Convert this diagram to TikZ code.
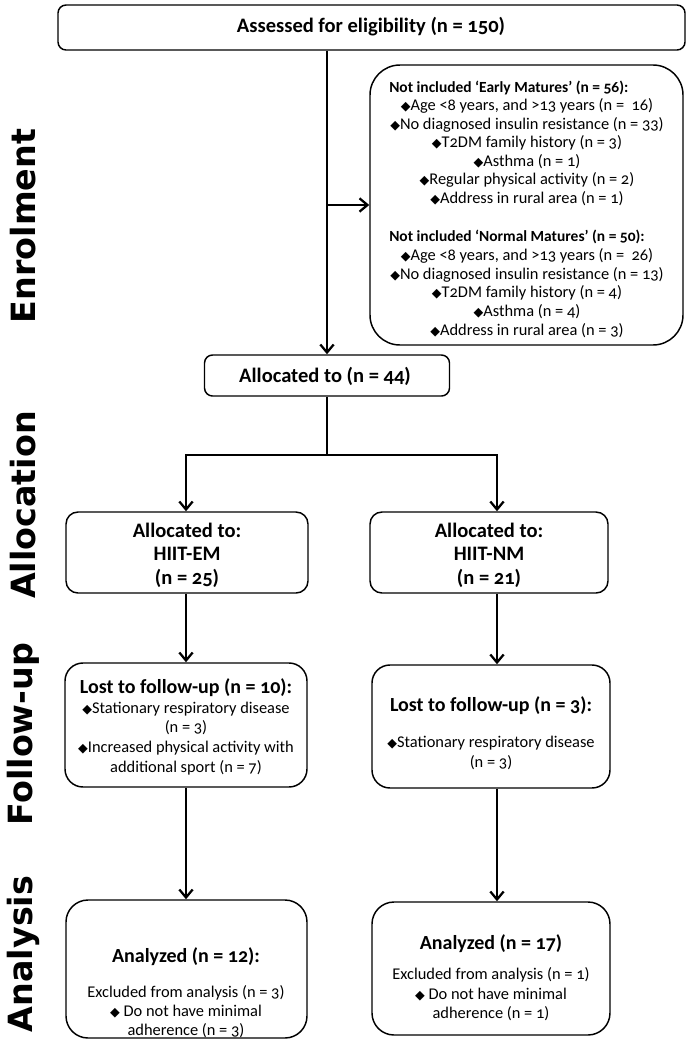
\documentclass[tikz,border=0pt]{standalone}
\usepackage{fontspec}
\setmainfont{Carlito}[Numbers=OldStyle]
\newfontfamily\dejavu{DejaVu Sans}
\usetikzlibrary{arrows.meta}
\newcommand\dia{{\dejavu\fontsize{9.5}{9}\selectfont ◆}}
\begin{document}
\begin{tikzpicture}[x=0.75pt,y=-0.75pt,
  box/.style={draw, line width=1.1pt, inner sep=0pt},
  arr/.style={line width=1.9pt, -{Straight Barb[length=6pt,width=10pt,line width=1.7pt]}},
  ln/.style={line width=1.9pt},
  side/.style={rotate=90, font=\dejavu\bfseries\fontsize{25}{25}\selectfont},
  hd/.style={font=\bfseries\fontsize{15.4}{17}\selectfont, inner sep=0pt},
  hdb/.style={font=\bfseries\fontsize{15}{17}\selectfont, inner sep=0pt},
  bh/.style={font=\bfseries\fontsize{11.6}{13}\selectfont, inner sep=0pt, anchor=west},
  bd/.style={font=\fontsize{12.3}{14}\selectfont, inner sep=0pt}]
\useasboundingbox (0,0) rectangle (690,1043);
% side labels
\node[side] (sEn) at (23,226) {Enrolment};
\node[side] (sAl) at (23,505) {Allocation};
\node[side] (sFo) at (23,734) {Follow-up};
\node[side] (sAn) at (23,954) {Analysis};
% boxes
\node[box, rounded corners=6pt, minimum width=470.25pt, minimum height=33.75pt] (A) at (371.5,27.5) {};
\node[box, rounded corners=22.5pt, minimum width=234.75pt, minimum height=210pt] (B) at (526.5,205) {};
\node[box, rounded corners=6pt, minimum width=183.75pt, minimum height=30.75pt] (C) at (327,375.5) {};
\node[box, rounded corners=9pt, minimum width=181.5pt, minimum height=60.75pt] (D) at (187,552.5) {};
\node[box, rounded corners=9pt, minimum width=178.5pt, minimum height=60.75pt] (E) at (489,552.5) {};
\node[box, rounded corners=13.5pt, minimum width=181.5pt, minimum height=93pt] (F) at (186,725) {};
\node[box, rounded corners=13.5pt, minimum width=178.5pt, minimum height=92.25pt] (G) at (491,726.5) {};
\node[box, rounded corners=16.5pt, minimum width=180.75pt, minimum height=103.5pt] (H) at (186.5,969) {};
\node[box, rounded corners=16.5pt, minimum width=178.5pt, minimum height=99.75pt] (I) at (491,968.5) {};
% connector helpers
\coordinate (J) at (327,455);
\coordinate (Rx) at (497,0);
\coordinate (Lx) at (186,0);
% connectors
\draw[arr] (A.south -| C.north) -- (C.north);
\draw[arr] (C.north |- B.west) -- (B.west);
\draw[ln] (C.south) -- (J);
\draw[arr] (J) -| (D.north -| Lx);
\draw[arr] (J) -| (E.north -| Rx);
\draw[arr] (D.south -| Lx) -- (F.north -| Lx);
\draw[arr] (E.south -| Rx) -- (G.north -| Rx);
\draw[arr] (F.south -| Lx) -- (H.north -| Lx);
\draw[arr] (G.south -| Rx) -- (I.north -| Rx);
% texts
\node[hd] (tA) at (371,27) {Assessed for eligibility (n = 150)};
\node[bh] (tB1) at (389,88) {Not included ‘Early Matures’ (n = 56):};
\foreach \t [count=\i] in {{\dia Age <8 years, and >13 years (n = \ 16)},
  {\dia No diagnosed insulin resistance (n = 33)},
  {\dia T2DM family history (n = 3)},
  {\dia Asthma (n = 1)},
  {\dia Regular physical activity (n = 2)},
  {\dia Address in rural area (n = 1)}}
  \node[bd] (bE\i) at (527,87.4+\i*18.6) {\t};
\node[bh] (tB2) at (389,237) {Not included ‘Normal Matures’ (n = 50):};
\foreach \t [count=\i] in {{\dia Age <8 years, and >13 years (n = \ 26)},
  {\dia No diagnosed insulin resistance (n = 13)},
  {\dia T2DM family history (n = 4)},
  {\dia Asthma (n = 4)},
  {\dia Address in rural area (n = 3)}}
  \node[bd] (bN\i) at (527,237.4+\i*18.6) {\t};
\node[hd] (tC) at (325,376) {Allocated to (n = 44)};
\node[hd] (tD1) at (187,530) {Allocated to:};
\node[hd] (tD2) at (187,554) {HIIT-EM};
\node[hd] (tD3) at (187,578) {(n = 25)};
\node[hd] (tE1) at (489,530) {Allocated to:};
\node[hd] (tE2) at (489,554) {HIIT-NM};
\node[hd] (tE3) at (489,578) {(n = 21)};
\node[hdb] (tF0) at (186,688) {Lost to follow-up (n = 10):};
\node[bd] (tF1) at (186,709) {\dia Stationary respiratory disease};
\node[bd] (tF2) at (186,728) {(n = 3)};
\node[bd] (tF3) at (186,748) {\dia Increased physical activity with};
\node[bd] (tF4) at (186,768) {additional sport (n = 7)};
\node[hdb] (tG0) at (491,706) {Lost to follow-up (n = 3):};
\node[bd] (tG1) at (491,743) {\dia Stationary respiratory disease};
\node[bd] (tG2) at (491,763) {(n = 3)};
\node[hdb] (tH0) at (186,957) {Analyzed (n = 12):};
\node[bd] (tH1) at (186,993) {Excluded from analysis (n = 3)};
\node[bd] (tH2) at (186,1012) {\dia\ Do not have minimal};
\node[bd] (tH3) at (186,1031) {adherence (n = 3)};
\node[hdb] (tI0) at (491,944) {Analyzed (n = 17)};
\node[bd] (tI1) at (491,975) {Excluded from analysis (n = 1)};
\node[bd] (tI2) at (491,995) {\dia\ Do not have minimal};
\node[bd] (tI3) at (491,1014) {adherence (n = 1)};
\end{tikzpicture}
\end{document}
